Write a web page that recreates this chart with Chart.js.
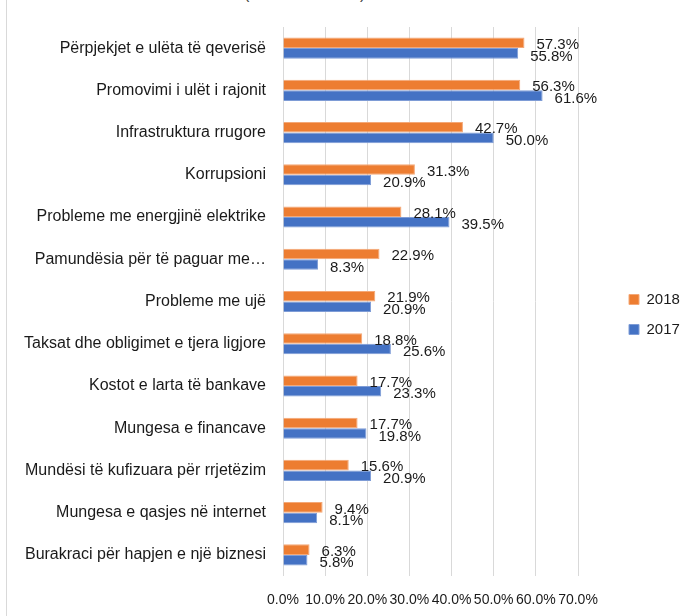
<!DOCTYPE html>
<html>
<head>
<meta charset="utf-8">
<script src="https://cdn.jsdelivr.net/npm/chart.js@4"></script>
<style>
  html, body { margin: 0; padding: 0; background: #fff; }
  #wrap { position: relative; width: 693px; height: 616px; overflow: hidden; }
  #borde { position: absolute; left: 6px; top: 0; width: 0; height: 616px; border-left: 1px solid #d9d9d9; }
  .par { position: absolute; top: -15px; font: 16px "Liberation Sans", sans-serif; color: #404040; }
  canvas { position: absolute; left: 0; top: 0; }
</style>
</head>
<body>
<div id="wrap">
  <div id="borde"></div>
  <span class="par" style="left:244px">(</span>
  <span class="par" style="left:360px">)</span>
  <canvas id="grafico" width="693" height="616"></canvas>
</div>
<script>
// Datos
const categorias = [
  "Përpjekjet e ulëta të qeverisë",
  "Promovimi i ulët i rajonit",
  "Infrastruktura rrugore",
  "Korrupsioni",
  "Probleme me energjinë elektrike",
  "Pamundësia për të paguar me…",
  "Probleme me ujë",
  "Taksat dhe obligimet e tjera ligjore",
  "Kostot e larta të bankave",
  "Mungesa e financave",
  "Mundësi të kufizuara për rrjetëzim",
  "Mungesa e qasjes në internet",
  "Burakraci për hapjen e një biznesi"
];
const valores2018 = [57.3, 56.3, 42.7, 31.3, 28.1, 22.9, 21.9, 18.8, 17.7, 17.7, 15.6, 9.4, 6.3];
const valores2017 = [55.8, 61.6, 50.0, 20.9, 39.5, 8.3, 20.9, 25.6, 23.3, 19.8, 20.9, 8.1, 5.8];
const ticksX = [0, 10, 20, 30, 40, 50, 60, 70];

const fuente = '"Liberation Sans", Arial, sans-serif';

// Etiquetas de valor a la derecha de cada barra
const etiquetasPlugin = {
  id: 'etiquetas',
  afterDatasetsDraw(chart) {
    const ctx = chart.ctx;
    ctx.save();
    ctx.font = '15px ' + fuente;
    ctx.fillStyle = '#1a1a1a';
    ctx.textAlign = 'left';
    ctx.textBaseline = 'middle';
    chart.data.datasets.forEach((ds, i) => {
      const meta = chart.getDatasetMeta(i);
      meta.data.forEach((bar, j) => {
        const dy = i === 0 ? 2 : 3;
        ctx.fillText(ds.data[j].toFixed(1) + '%', bar.x + 12, bar.y + dy);
      });
    });
    ctx.restore();
  }
};

// Ancho fijo de la leyenda y posición
const leyendaPlugin = {
  id: 'leyendaAncho',
  afterInit(chart) {
    const lg = chart.legend;
    if (!lg) return;
    const fitOrig = lg.fit.bind(lg);
    lg.fit = function () {
      fitOrig();
      this.width = 115;
    };
  },
  afterLayout(chart) {
    const lg = chart.legend;
    if (!lg) return;
    lg.left += 36;
    lg.right += 36;
    lg.top -= 7;
    lg.bottom -= 7;
  }
};

const ctx = document.getElementById('grafico').getContext('2d');
new Chart(ctx, {
  type: 'bar',
  data: {
    labels: categorias,
    datasets: [
      {
        label: '2018',
        data: valores2018,
        backgroundColor: '#ED7D31',
        borderColor: '#F4A877',
        borderWidth: 1,
        categoryPercentage: 0.5,
        barPercentage: 1.0
      },
      {
        label: '2017',
        data: valores2017,
        backgroundColor: '#4472C4',
        borderColor: '#7E9CD6',
        borderWidth: 1,
        categoryPercentage: 0.5,
        barPercentage: 1.0
      }
    ]
  },
  options: {
    indexAxis: 'y',
    responsive: false,
    animation: false,
    layout: { padding: { top: 27, left: 0, right: 0, bottom: 0 } },
    plugins: {
      legend: {
        position: 'right',
        align: 'center',
        labels: {
          boxWidth: 10,
          boxHeight: 10,
          padding: 15,
          color: '#1a1a1a',
          font: { family: fuente, size: 15 }
        }
      },
      tooltip: { enabled: false }
    },
    scales: {
      x: {
        min: 0,
        max: 70,
        afterBuildTicks(scale) {
          scale.ticks = ticksX.map(v => ({ value: v }));
        },
        afterFit(scale) { scale.height = 40; },
        grid: { color: '#d9d9d9', drawTicks: false },
        border: { display: false },
        ticks: {
          padding: 16,
          maxRotation: 0,
          autoSkip: false,
          color: '#1a1a1a',
          font: { family: fuente, size: 14 },
          callback: v => v.toFixed(1) + '%'
        }
      },
      y: {
        afterFit(scale) { scale.width = 283; },
        grid: { display: false, drawTicks: false },
        border: { display: false },
        ticks: {
          padding: 17,
          autoSkip: false,
          color: '#1a1a1a',
          font: { family: fuente, size: 16 }
        }
      }
    }
  },
  plugins: [etiquetasPlugin, leyendaPlugin]
});
</script>
</body>
</html>
